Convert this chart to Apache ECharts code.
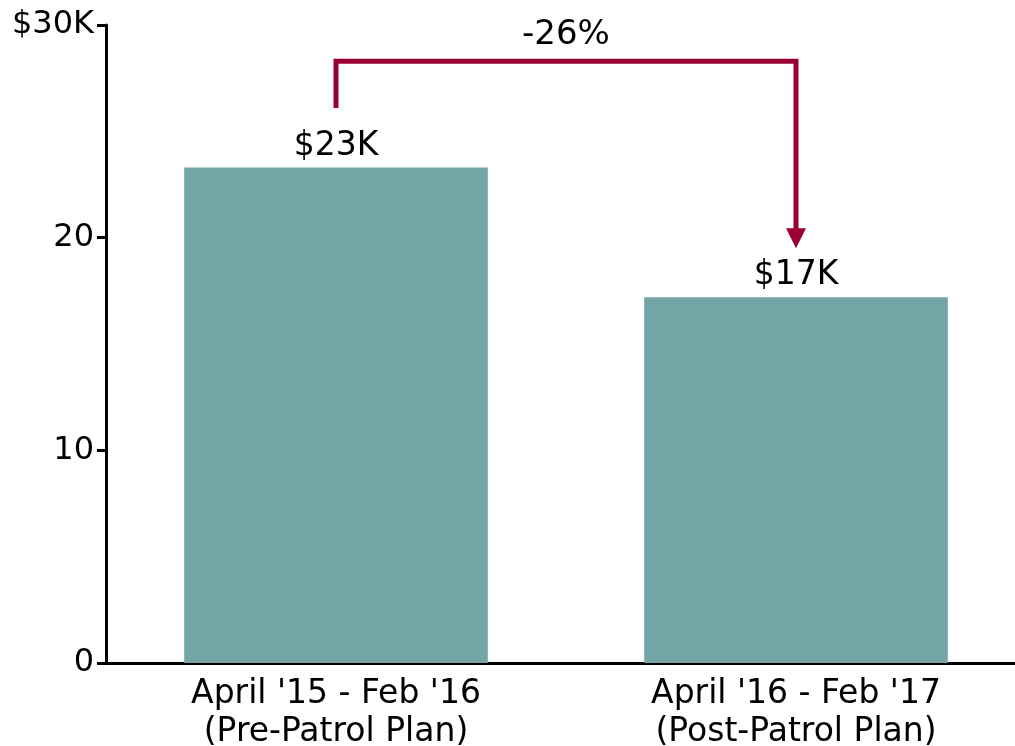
<!DOCTYPE html>
<html><head><meta charset="utf-8">
<script src="https://cdn.jsdelivr.net/npm/echarts@6/dist/echarts.min.js"></script>
<style>html,body{margin:0;padding:0;background:#fff}#c{width:1015px;height:746px}</style>
</head><body><div id="c"></div>
<script>
const categories = ["April '15 - Feb '16\n(Pre-Patrol Plan)", "April '16 - Feb '17\n(Post-Patrol Plan)"];
const values = [23.3, 17.2];
const valueLabels = ['$23K', '$17K'];
const yTicks = [0, 10, 20, 30];
const yTickLabels = ['0', '10', '20', '$30K'];
const changeLabel = '-26%';
// bracket levels (in $K): start above bar 1, top level, arrow tip above bar 2
const bracketStart = 26.1;
const bracketTop = 28.3;
const bracketEnd = 19.5;

const FONT = 'DejaVu Sans';
const RED = '#9b0034';
const chart = echarts.init(document.getElementById('c'));
chart.setOption({
  animation: false,
  grid: {left: 106, right: -11, top: 25, bottom: 83, containLabel: false, outerBoundsMode: 'none'},
  xAxis: {
    type: 'category', data: categories,
    axisLine: {lineStyle: {color: '#000', width: 3}},
    axisTick: {show: false},
    axisLabel: {color: '#000', fontFamily: FONT, fontSize: 33, lineHeight: 38, margin: 12}
  },
  yAxis: {
    type: 'value', min: 0, max: 30, interval: 10,
    axisLine: {show: true, lineStyle: {color: '#000', width: 3}},
    axisTick: {show: true, length: 9, lineStyle: {color: '#000', width: 3}},
    splitLine: {show: false},
    axisLabel: {color: '#000', fontFamily: FONT, fontSize: 32, margin: 12, padding: [6, 0, 0, 0],
      formatter: v => yTickLabels[yTicks.indexOf(v)]}
  },
  series: [{
    type: 'bar', data: values, barWidth: '66%',
    itemStyle: {color: '#73a5a6'},
    label: {show: true, position: 'top', distance: 5, color: '#000', fontFamily: FONT, fontSize: 33,
      formatter: p => valueLabels[p.dataIndex]}
  }]
});

const p0 = chart.convertToPixel({seriesIndex: 0}, [0, bracketStart]);
const pTop0 = chart.convertToPixel({seriesIndex: 0}, [0, bracketTop]);
const pTop1 = chart.convertToPixel({seriesIndex: 0}, [1, bracketTop]);
const pEnd = chart.convertToPixel({seriesIndex: 0}, [1, bracketEnd]);
const headH = 20, headW = 20;
chart.setOption({
  graphic: [
    {type: 'polyline', shape: {points: [p0, pTop0, pTop1, [pEnd[0], pEnd[1] - headH + 2]]},
      style: {stroke: RED, lineWidth: 5, fill: null, lineJoin: 'miter', lineCap: 'butt'}},
    {type: 'polygon', shape: {points: [[pEnd[0] - headW / 2, pEnd[1] - headH], [pEnd[0] + headW / 2, pEnd[1] - headH], pEnd]},
      style: {fill: RED}},
    {type: 'text', x: (pTop0[0] + pTop1[0]) / 2, y: pTop0[1] - 26,
      style: {text: changeLabel, fill: '#000', font: '34px "DejaVu Sans"', textAlign: 'center', textVerticalAlign: 'middle'}}
  ]
});
</script></body></html>
